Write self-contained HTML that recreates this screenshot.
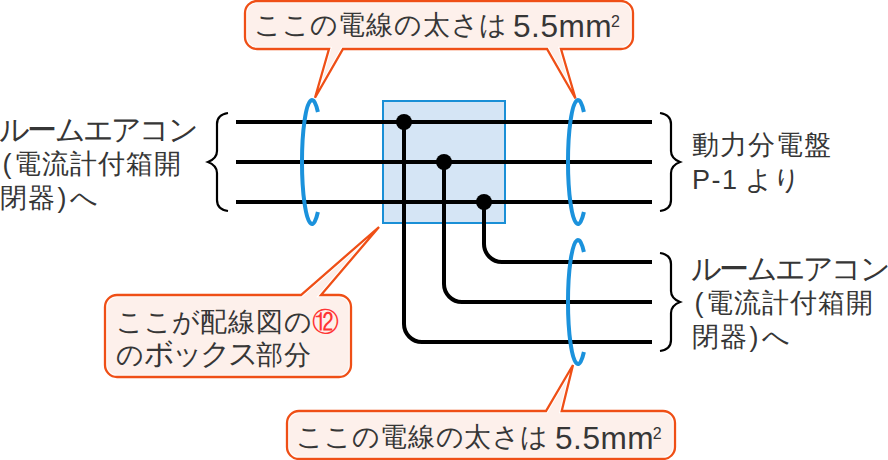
<!DOCTYPE html>
<html>
<head>
<meta charset="utf-8">
<style>
html,body{margin:0;padding:0;background:#ffffff;}
body{width:888px;height:460px;position:relative;overflow:hidden;font-family:"Liberation Sans",sans-serif;color:#363636;}
svg{position:absolute;left:0;top:0;}
.t{position:absolute;white-space:nowrap;font-size:27px;line-height:27px;height:27px;}
.t span{line-height:0;}
.k{display:inline-block;width:28.10px;}
.kt{font-size:29.5px;}
.pl{display:inline-block;width:13.8px;padding-left:2.5px;box-sizing:border-box;}
.pr{display:inline-block;width:13.8px;padding-left:1px;box-sizing:border-box;}
.p1{letter-spacing:1.5px;}
.mm{display:inline-block;font-size:31px;letter-spacing:0.5px;margin-left:6.3px;position:relative;top:3px;transform:scaleX(1.02);transform-origin:0 0;}
.sup{font-size:16px;position:relative;top:-7px;margin-left:0.6px;}
.c12{color:#ff3434;}
</style>
</head>
<body>
<svg width="888" height="460" viewBox="0 0 888 460">
  <!-- blue box -->
  <rect x="383" y="101" width="122" height="122" fill="#d5e5f5" stroke="#1a8fd6" stroke-width="2"/>
  <!-- wires -->
  <g stroke="#000" stroke-width="4" fill="none">
    <line x1="236" y1="122" x2="652" y2="122"/>
    <line x1="236" y1="162" x2="652" y2="162"/>
    <line x1="236" y1="202" x2="652" y2="202"/>
    <path d="M404 122 V324 A18 18 0 0 0 422 342 H652"/>
    <path d="M444 162 V284 A18 18 0 0 0 462 302 H652"/>
    <path d="M484 202 V244 A18 18 0 0 0 502 262 H652"/>
  </g>
  <g fill="#000">
    <circle cx="404" cy="122" r="8"/>
    <circle cx="444" cy="162" r="8"/>
    <circle cx="484" cy="202" r="8"/>
  </g>
  <!-- braces -->
  <g stroke="#000" stroke-width="2.2" fill="none">
    <path d="M228 113 C221 114 217 118 217 124 V151 C217 156 213 160 208 162 C213 164 217 168 217 173 V200 C217 206 221 210 228 211"/>
    <path d="M660 113 C667 114 671 118 671 124 V151 C671 156 675 160 680 162 C675 164 671 168 671 173 V200 C671 206 667 210 660 211"/>
    <path d="M660 253 C667 254 671 258 671 264 V291 C671 296 675 300 680 302 C675 304 671 308 671 313 V340 C671 346 667 350 660 351"/>
  </g>
  <!-- callouts -->
  <g stroke-linejoin="miter">
    <path d="M257.0 1.0 H621.0 A12 12 0 0 1 633.0 13.0 V37.0 A12 12 0 0 1 621.0 49.0 H561.0 L575.5 98.5 L547.0 49.0 H343.0 L315.0 97.8 L329.0 49.0 H257.0 A12 12 0 0 1 245.0 37.0 V13.0 A12 12 0 0 1 257.0 1.0 Z" fill="#fdf0eb" stroke="#ffffff" stroke-width="4.4"/>
    <path d="M257.0 1.0 H621.0 A12 12 0 0 1 633.0 13.0 V37.0 A12 12 0 0 1 621.0 49.0 H561.0 L575.5 98.5 L547.0 49.0 H343.0 L315.0 97.8 L329.0 49.0 H257.0 A12 12 0 0 1 245.0 37.0 V13.0 A12 12 0 0 1 257.0 1.0 Z" fill="none" stroke="#ef4f16" stroke-width="2.3"/>
    <path d="M117.0 295.0 H301.0 L379.0 227.0 L321.0 295.0 H339.0 A12 12 0 0 1 351.0 307.0 V365.0 A12 12 0 0 1 339.0 377.0 H117.0 A12 12 0 0 1 105.0 365.0 V307.0 A12 12 0 0 1 117.0 295.0 Z" fill="#fdf0eb" stroke="#ffffff" stroke-width="4.4"/>
    <path d="M117.0 295.0 H301.0 L379.0 227.0 L321.0 295.0 H339.0 A12 12 0 0 1 351.0 307.0 V365.0 A12 12 0 0 1 339.0 377.0 H117.0 A12 12 0 0 1 105.0 365.0 V307.0 A12 12 0 0 1 117.0 295.0 Z" fill="none" stroke="#ef4f16" stroke-width="2.3"/>
    <path d="M299.0 411.0 H546.0 L573.0 365.0 L561.7 411.0 H663.0 A12 12 0 0 1 675.0 423.0 V447.0 A12 12 0 0 1 663.0 459.0 H299.0 A12 12 0 0 1 287.0 447.0 V423.0 A12 12 0 0 1 299.0 411.0 Z" fill="#fdf0eb" stroke="#ffffff" stroke-width="4.4"/>
    <path d="M299.0 411.0 H546.0 L573.0 365.0 L561.7 411.0 H663.0 A12 12 0 0 1 675.0 423.0 V447.0 A12 12 0 0 1 663.0 459.0 H299.0 A12 12 0 0 1 287.0 447.0 V423.0 A12 12 0 0 1 299.0 411.0 Z" fill="none" stroke="#ef4f16" stroke-width="2.3"/>
  </g>
  <!-- blue arcs -->
  <g stroke="#1b92dc" stroke-width="4" fill="none">
    <path d="M317.9 112 A10 62 0 1 0 317.9 212"/>
    <path d="M583.9 112 A10 62 0 1 0 583.9 212"/>
    <path d="M583.9 252 A10 62 0 1 0 583.9 352"/>
  </g>
</svg>
<div class="t" style="left:-1.0px;top:118.0px"><span class="k kt">ル</span><span class="k kt">ー</span><span class="k kt">ム</span><span class="k kt">エ</span><span class="k kt">ア</span><span class="k kt">コ</span><span class="k kt">ン</span></div>
<div class="t" style="left:0.0px;top:151.0px"><span class="pl">(</span><span class="k">電</span><span class="k">流</span><span class="k">計</span><span class="k">付</span><span class="k">箱</span><span class="k">開</span></div>
<div class="t" style="left:0.3px;top:185.3px"><span class="k">閉</span><span class="k">器</span><span class="pr">)</span><span class="k">へ</span></div>
<div class="t" style="left:691.0px;top:256.6px"><span class="k kt">ル</span><span class="k kt">ー</span><span class="k kt">ム</span><span class="k kt">エ</span><span class="k kt">ア</span><span class="k kt">コ</span><span class="k kt">ン</span></div>
<div class="t" style="left:692.0px;top:289.6px"><span class="pl">(</span><span class="k">電</span><span class="k">流</span><span class="k">計</span><span class="k">付</span><span class="k">箱</span><span class="k">開</span></div>
<div class="t" style="left:692.3px;top:323.9px"><span class="k">閉</span><span class="k">器</span><span class="pr">)</span><span class="k">へ</span></div>
<div class="t" style="left:692.0px;top:131.5px"><span class="k">動</span><span class="k">力</span><span class="k">分</span><span class="k">電</span><span class="k">盤</span></div>
<div class="t" style="left:692.0px;top:167.0px"><span class="p1">P-1</span></div>
<div class="t" style="left:745.0px;top:167.0px"><span class="k">よ</span><span class="k">り</span></div>
<div class="t" style="left:254.0px;top:12.0px"><span class="k">こ</span><span class="k">こ</span><span class="k">の</span><span class="k">電</span><span class="k">線</span><span class="k">の</span><span class="k">太</span><span class="k">さ</span><span class="k">は</span><span class="mm">5.5mm</span><span class="sup">2</span></div>
<div class="t" style="left:295.7px;top:424.4px"><span class="k">こ</span><span class="k">こ</span><span class="k">の</span><span class="k">電</span><span class="k">線</span><span class="k">の</span><span class="k">太</span><span class="k">さ</span><span class="k">は</span><span class="mm">5.5mm</span><span class="sup">2</span></div>
<div class="t" style="left:115.5px;top:309.3px"><span class="k">こ</span><span class="k">こ</span><span class="k">が</span><span class="k">配</span><span class="k">線</span><span class="k">図</span><span class="k">の</span><span class="k c12">⑫</span></div>
<div class="t" style="left:115.6px;top:342.0px"><span class="k">の</span><span class="k kt">ボ</span><span class="k kt">ッ</span><span class="k kt">ク</span><span class="k kt">ス</span><span class="k">部</span><span class="k">分</span></div>
</body>
</html>
